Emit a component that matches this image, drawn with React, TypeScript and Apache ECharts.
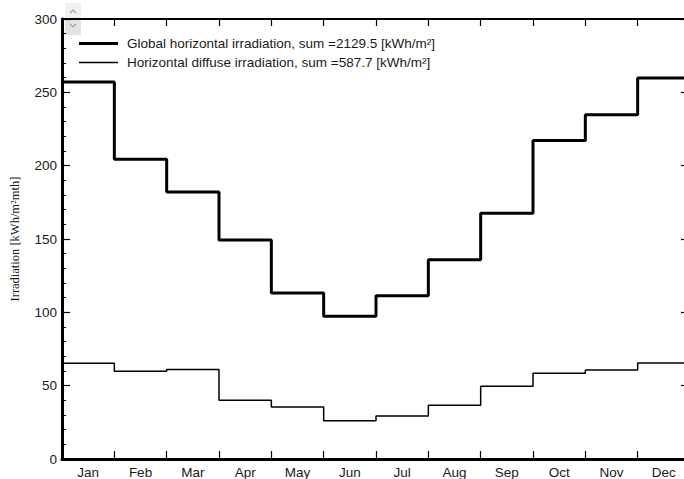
import React, { useEffect, useRef } from "react";
import * as echarts from "echarts";

const months = ["Jan", "Feb", "Mar", "Apr", "May", "Jun", "Jul", "Aug", "Sep", "Oct", "Nov", "Dec"];
const globalValues = [257.0, 204.3, 182.1, 149.3, 113.1, 97.4, 111.3, 135.8, 167.5, 217.2, 234.8, 259.7];
const diffuseValues = [65.3, 59.9, 61.1, 40.0, 35.4, 26.0, 29.3, 36.6, 49.6, 58.4, 60.7, 65.4];
const legendLabels = [
  "Global horizontal irradiation, sum =2129.5 [kWh/m²]",
  "Horizontal diffuse irradiation, sum =587.7 [kWh/m²]",
];
const yTitle = "Irradiation [kWh/m²mth]";

function stepData(vals: number[]): number[][] {
  const d = vals.map((v, i) => [i, v]);
  d.push([vals.length, vals[vals.length - 1]]);
  return d;
}

export default function App() {
  const ref = useRef<HTMLDivElement>(null);
  useEffect(() => {
    if (!ref.current) return;
    const chart = echarts.init(ref.current, null, { renderer: "svg" });
    const font = "'Liberation Sans', Arial, sans-serif";
    const txt = "#1a1a1a";
    chart.setOption({
      animation: false,
      backgroundColor: "#ffffff",
      grid: { left: 62, top: 19, width: 628, height: 440, outerBoundsMode: "none", containLabel: false },
      xAxis: [
        {
          type: "category",
          position: "bottom",
          data: months,
          boundaryGap: true,
          axisLine: { show: true, lineStyle: { color: "#000", width: 3 } },
          axisTick: { show: true, inside: true, length: 8, lineStyle: { color: "#000", width: 1.2 } },
          axisLabel: { color: txt, fontSize: 13.5, fontFamily: font, margin: 6 },
          splitLine: { show: false },
        },
        {
          type: "value",
          min: 0,
          max: 12,
          show: false,
        },
        {
          type: "category",
          position: "top",
          data: months,
          boundaryGap: true,
          axisLine: { show: true, lineStyle: { color: "#000", width: 2 } },
          axisTick: { show: true, inside: true, length: 7, lineStyle: { color: "#000", width: 1.2 } },
          axisLabel: { show: false },
          splitLine: { show: false },
        },
      ],
      yAxis: [
        {
          type: "value",
          position: "left",
          min: 0,
          max: 300,
          interval: 50,
          axisLine: { show: true, lineStyle: { color: "#000", width: 3 } },
          axisTick: { show: true, inside: true, length: 8, lineStyle: { color: "#000", width: 1.2 } },
          minorTick: { show: true, splitNumber: 5, length: 4, lineStyle: { color: "#000", width: 1 } },
          axisLabel: { color: txt, fontSize: 13.5, fontFamily: font, margin: 5 },
          splitLine: { show: false },
          name: yTitle,
          nameLocation: "middle",
          nameRotate: 90,
          nameGap: 41,
          nameTextStyle: { color: txt, fontSize: 12.5, fontFamily: "'Liberation Serif', 'Times New Roman', serif" },
        },
        {
          type: "value",
          position: "right",
          min: 0,
          max: 300,
          interval: 50,
          axisLine: { show: true, lineStyle: { color: "#000", width: 2 } },
          axisTick: { show: true, inside: true, length: 9, lineStyle: { color: "#000", width: 1.2 } },
          minorTick: { show: true, splitNumber: 5, length: 4, lineStyle: { color: "#000", width: 1 } },
          axisLabel: { show: false },
          splitLine: { show: false },
        },
      ],
      series: [
        {
          name: legendLabels[0],
          type: "line",
          xAxisIndex: 1,
          yAxisIndex: 0,
          step: "end",
          symbol: "none",
          data: stepData(globalValues),
          lineStyle: { color: "#000", width: 3 },
        },
        {
          name: legendLabels[1],
          type: "line",
          xAxisIndex: 1,
          yAxisIndex: 0,
          step: "end",
          symbol: "none",
          data: stepData(diffuseValues),
          lineStyle: { color: "#000", width: 1.5 },
        },
      ],
      graphic: [
        { type: "rect", shape: { x: 65, y: 3, width: 16, height: 16 }, style: { fill: "#f0f0f0", stroke: "none" } },
        { type: "rect", shape: { x: 65, y: 19, width: 16, height: 16 }, style: { fill: "#e3e3e3", stroke: "none" } },
        { type: "polyline", shape: { points: [[70, 13], [73, 10], [76, 13]] }, style: { stroke: "#a0a0a0", lineWidth: 1.2, fill: "none" } },
        { type: "polyline", shape: { points: [[70, 24], [73, 27], [76, 24]] }, style: { stroke: "#a0a0a0", lineWidth: 1.2, fill: "none" } },
        { type: "line", shape: { x1: 79, y1: 43.5, x2: 118, y2: 43.5 }, style: { stroke: "#000", lineWidth: 3 } },
        { type: "line", shape: { x1: 79, y1: 62.5, x2: 118, y2: 62.5 }, style: { stroke: "#000", lineWidth: 1.3 } },
        { type: "text", x: 127, y: 43.5, style: { text: legendLabels[0], fill: txt, fontSize: 13.5, fontFamily: font, verticalAlign: "middle", align: "left" } },
        { type: "text", x: 127, y: 62.5, style: { text: legendLabels[1], fill: txt, fontSize: 13.5, fontFamily: font, verticalAlign: "middle", align: "left" } },
      ],
    });
    return () => chart.dispose();
  }, []);
  return <div ref={ref} style={{ position: "absolute", left: 0, top: 0, width: 684, height: 479 }} />;
}
